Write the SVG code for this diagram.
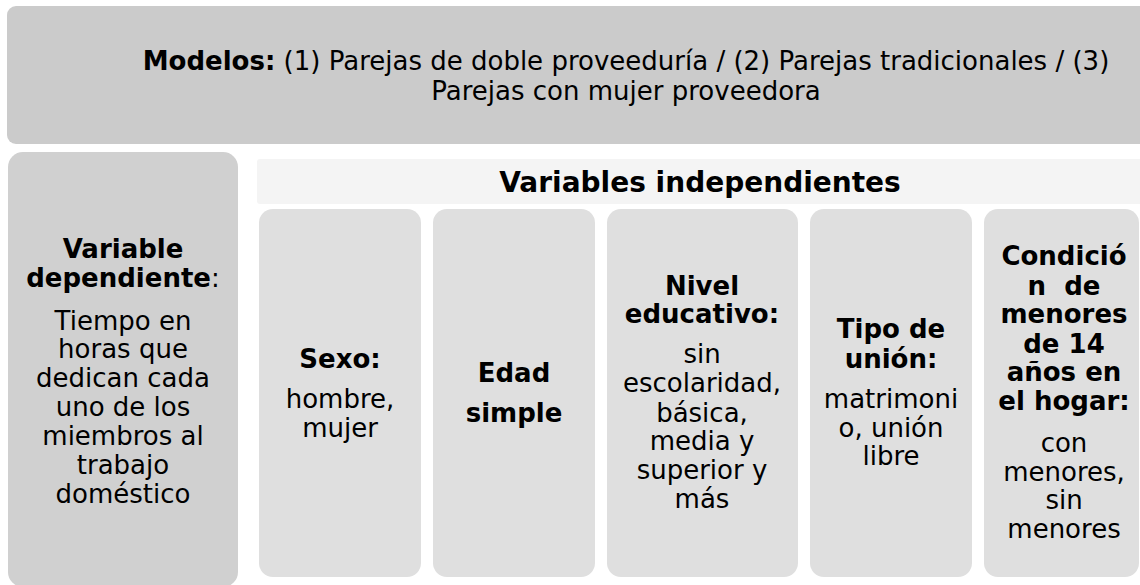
<svg xmlns="http://www.w3.org/2000/svg" width="1140" height="585" viewBox="0 0 1140 585">
  <style>
    text { font-family: "DejaVu Sans", Verdana, sans-serif; font-size: 26px; fill: #000; text-anchor: middle; }
    .b { font-weight: bold; }
    .hdr { font-size: 28px; font-weight: bold; }
    .top { fill: #cbcbcb; }
    .dep { fill: #d0d0d0; }
    .band { fill: #f4f4f4; }
    .ind { fill: #dfdfdf; }
  </style>
  <rect width="1140" height="585" fill="#ffffff"/>
  <g id="modelos">
    <rect class="top" x="7" y="6" width="1150" height="138" rx="9"/>
    <text x="626" y="70"><tspan class="b">Modelos:</tspan> (1) Parejas de doble proveeduría / (2) Parejas tradicionales / (3)</text>
    <text x="626" y="100">Parejas con mujer proveedora</text>
  </g>
  <g id="variable-dependiente">
    <rect class="dep" x="8" y="152" width="230" height="435" rx="15"/>
    <text x="123" y="258"><tspan class="b">Variable</tspan></text>
    <text x="123" y="287"><tspan class="b">dependiente</tspan>:</text>
    <text x="123" y="330">Tiempo en</text>
    <text x="123" y="358">horas que</text>
    <text x="123" y="387">dedican cada</text>
    <text x="123" y="416">uno de los</text>
    <text x="123" y="445">miembros al</text>
    <text x="123" y="474">trabajo</text>
    <text x="123" y="503">doméstico</text>
  </g>
  <g id="variables-independientes">
    <rect class="band" x="257" y="159" width="890" height="45" rx="3"/>
    <text class="hdr" x="700" y="192">Variables independientes</text>
  </g>
  <g id="sexo">
    <rect class="ind" x="259" y="209" width="162" height="368" rx="14"/>
    <text class="b" x="340" y="368">Sexo:</text>
    <text x="340" y="408">hombre,</text>
    <text x="340" y="437">mujer</text>
  </g>
  <g id="edad">
    <rect class="ind" x="433" y="209" width="162" height="368" rx="14"/>
    <text class="b" x="514" y="382">Edad</text>
    <text class="b" x="514" y="422">simple</text>
  </g>
  <g id="nivel-educativo">
    <rect class="ind" x="607" y="209" width="191" height="368" rx="14"/>
    <text class="b" x="702" y="295">Nivel</text>
    <text class="b" x="702" y="323">educativo:</text>
    <text x="702" y="363">sin</text>
    <text x="702" y="392">escolaridad,</text>
    <text x="702" y="422">básica,</text>
    <text x="702" y="450">media y</text>
    <text x="702" y="479">superior y</text>
    <text x="702" y="508">más</text>
  </g>
  <g id="tipo-union">
    <rect class="ind" x="810" y="209" width="162" height="368" rx="14"/>
    <text class="b" x="891" y="338">Tipo de</text>
    <text class="b" x="891" y="368">unión:</text>
    <text x="891" y="408">matrimoni</text>
    <text x="891" y="437">o, unión</text>
    <text x="891" y="465">libre</text>
  </g>
  <g id="condicion-menores">
    <rect class="ind" x="984" y="209" width="155" height="368" rx="14"/>
    <text class="b" x="1064" y="265">Condició</text>
    <text class="b" x="1064" y="295" xml:space="preserve">n  de</text>
    <text class="b" x="1064" y="323">menores</text>
    <text class="b" x="1064" y="353">de 14</text>
    <text class="b" x="1064" y="381">años en</text>
    <text class="b" x="1064" y="410">el hogar:</text>
    <text x="1064" y="452">con</text>
    <text x="1064" y="481">menores,</text>
    <text x="1064" y="509">sin</text>
    <text x="1064" y="538">menores</text>
  </g>
  <g id="connectors"/>
</svg>
